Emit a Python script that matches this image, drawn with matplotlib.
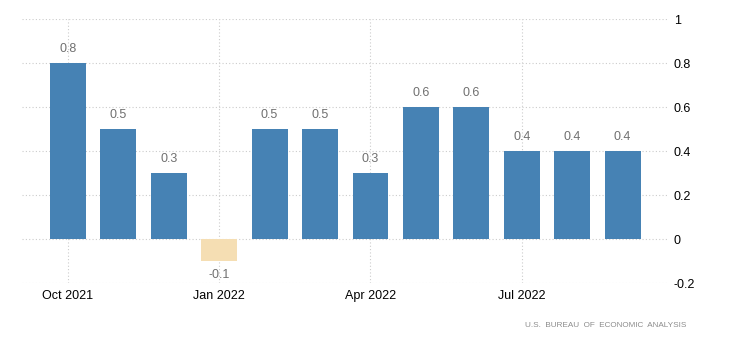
import matplotlib

matplotlib.use("Agg")
import matplotlib.pyplot as plt
import numpy as np

months = ["Oct 2021", "Nov 2021", "Dec 2021", "Jan 2022", "Feb 2022", "Mar 2022",
          "Apr 2022", "May 2022", "Jun 2022", "Jul 2022", "Aug 2022", "Sep 2022"]
values = [0.8, 0.5, 0.3, -0.1, 0.5, 0.5, 0.3, 0.6, 0.6, 0.4, 0.4, 0.4]
tick_months = ["Oct 2021", "Jan 2022", "Apr 2022", "Jul 2022"]
y_ticks = [-0.2, 0, 0.2, 0.4, 0.6, 0.8, 1]
source = "U.S. BUREAU OF ECONOMIC ANALYSIS"

plt.rcParams["font.family"] = ["Liberation Sans", "DejaVu Sans"]

x = np.arange(len(months))
vals = np.array(values)
colors = np.where(vals < 0, "#F5DEB3", "#4682B4")

fig = plt.figure(figsize=(7.3, 3.5), dpi=100)
ax = fig.add_axes([0.0301, 0.1914, 0.885, 0.7543])

ax.bar(x, vals, width=0.71, color=colors, zorder=2)

for xi, v in zip(x, vals):
    if v >= 0:
        ax.annotate(f"{v:g}", (xi, v), xytext=(0, 6), textcoords="offset points",
                    ha="center", va="bottom", fontsize=9, color="#707070")
    else:
        ax.annotate(f"{v:g}", (xi, v), xytext=(0, -6), textcoords="offset points",
                    ha="center", va="top", fontsize=9, color="#707070")

ax.set_xlim(-0.91, 11.9)
ax.set_ylim(-0.2, 1)
ax.set_xticks([months.index(m) for m in tick_months])
ax.set_xticklabels(tick_months)
ax.set_yticks(y_ticks)
ax.set_yticklabels([f"{t:g}" for t in y_ticks])
ax.yaxis.tick_right()
ax.tick_params(axis="both", length=0, labelsize=9, colors="#000000")
ax.tick_params(axis="y", pad=4)
ax.tick_params(axis="x", pad=5)
for lbl in ax.get_yticklabels():
    lbl.set_horizontalalignment("left")

ax.grid(True, color="#cccccc", linestyle=(0, (1, 2)), linewidth=0.8, zorder=0)
ax.set_axisbelow(True)
for s in ax.spines.values():
    s.set_visible(False)

fig.text(0.94, 0.07, "  ".join(source.split(" ")), ha="right", va="center",
         fontsize=5.9, color="#8c8c8c")

fig.savefig("out.png", dpi=100)
